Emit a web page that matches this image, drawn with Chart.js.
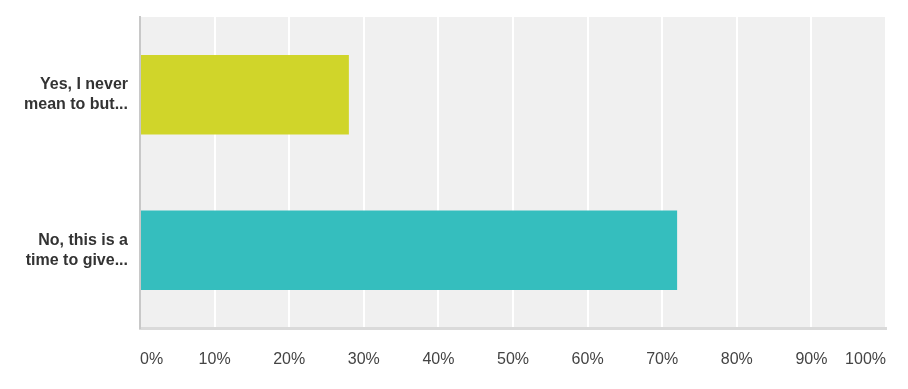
<!DOCTYPE html>
<html>
<head>
<meta charset="utf-8">
<script src="https://cdn.jsdelivr.net/npm/chart.js@4/dist/chart.umd.min.js"></script>
<style>
  html, body { margin: 0; padding: 0; background: #fff; }
  #wrap { width: 908px; height: 389px; position: relative; }
</style>
</head>
<body>
<div id="wrap"><canvas id="surveyChart"></canvas></div>
<script>
const categories = [['Yes, I never', 'mean to but...'], ['No, this is a', 'time to give...']];
const responses = [28, 72];
const barColors = ['#d0d52a', '#35bebe'];

// plot area background
const plotBg = {
    id: 'plotBg',
    beforeDraw(chart) {
        const { ctx, chartArea } = chart;
        ctx.save();
        ctx.fillStyle = '#f0f0f0';
        ctx.fillRect(chartArea.left, chartArea.top, chartArea.right - chartArea.left, chartArea.bottom - chartArea.top);
        ctx.restore();
    }
};

const ctx = document.getElementById('surveyChart').getContext('2d');

new Chart(ctx, {
    type: 'bar',
    data: {
        labels: categories,
        datasets: [{
            data: responses,
            backgroundColor: barColors,
            borderWidth: 0,
            barPercentage: 0.51,
            categoryPercentage: 1
        }]
    },
    options: {
        indexAxis: 'y',
        responsive: true,
        maintainAspectRatio: false,
        animation: false,
        layout: { padding: { top: 17, right: 22, left: 0, bottom: 0 } },
        plugins: {
            legend: { display: false },
            tooltip: { enabled: false }
        },
        scales: {
            x: {
                min: 0,
                max: 100,
                ticks: {
                    stepSize: 10,
                    align: 'inner',
                    padding: 22,
                    color: '#444',
                    font: { family: '"Liberation Sans", Arial, sans-serif', size: 16 },
                    callback: v => v + '%'
                },
                grid: {
                    drawTicks: false,
                    lineWidth: 2,
                    color: c => c.index === 0 ? 'rgba(0,0,0,0)' : '#ffffff'
                },
                border: { color: '#dadada', width: 3 },
                afterFit: scale => { scale.height = 61; }
            },
            y: {
                ticks: {
                    padding: 12,
                    color: '#333',
                    font: { family: '"Liberation Sans", Arial, sans-serif', size: 16, weight: 'bold', lineHeight: 1.25 }
                },
                grid: { display: false, drawTicks: false },
                border: { color: '#c8c8c8', width: 2 },
                afterFit: scale => {
                    scale.width = 140;
                    scale.paddingTop = 0;
                    scale.paddingBottom = 0;
                }
            }
        }
    },
    plugins: [plotBg]
});
</script>
</body>
</html>
